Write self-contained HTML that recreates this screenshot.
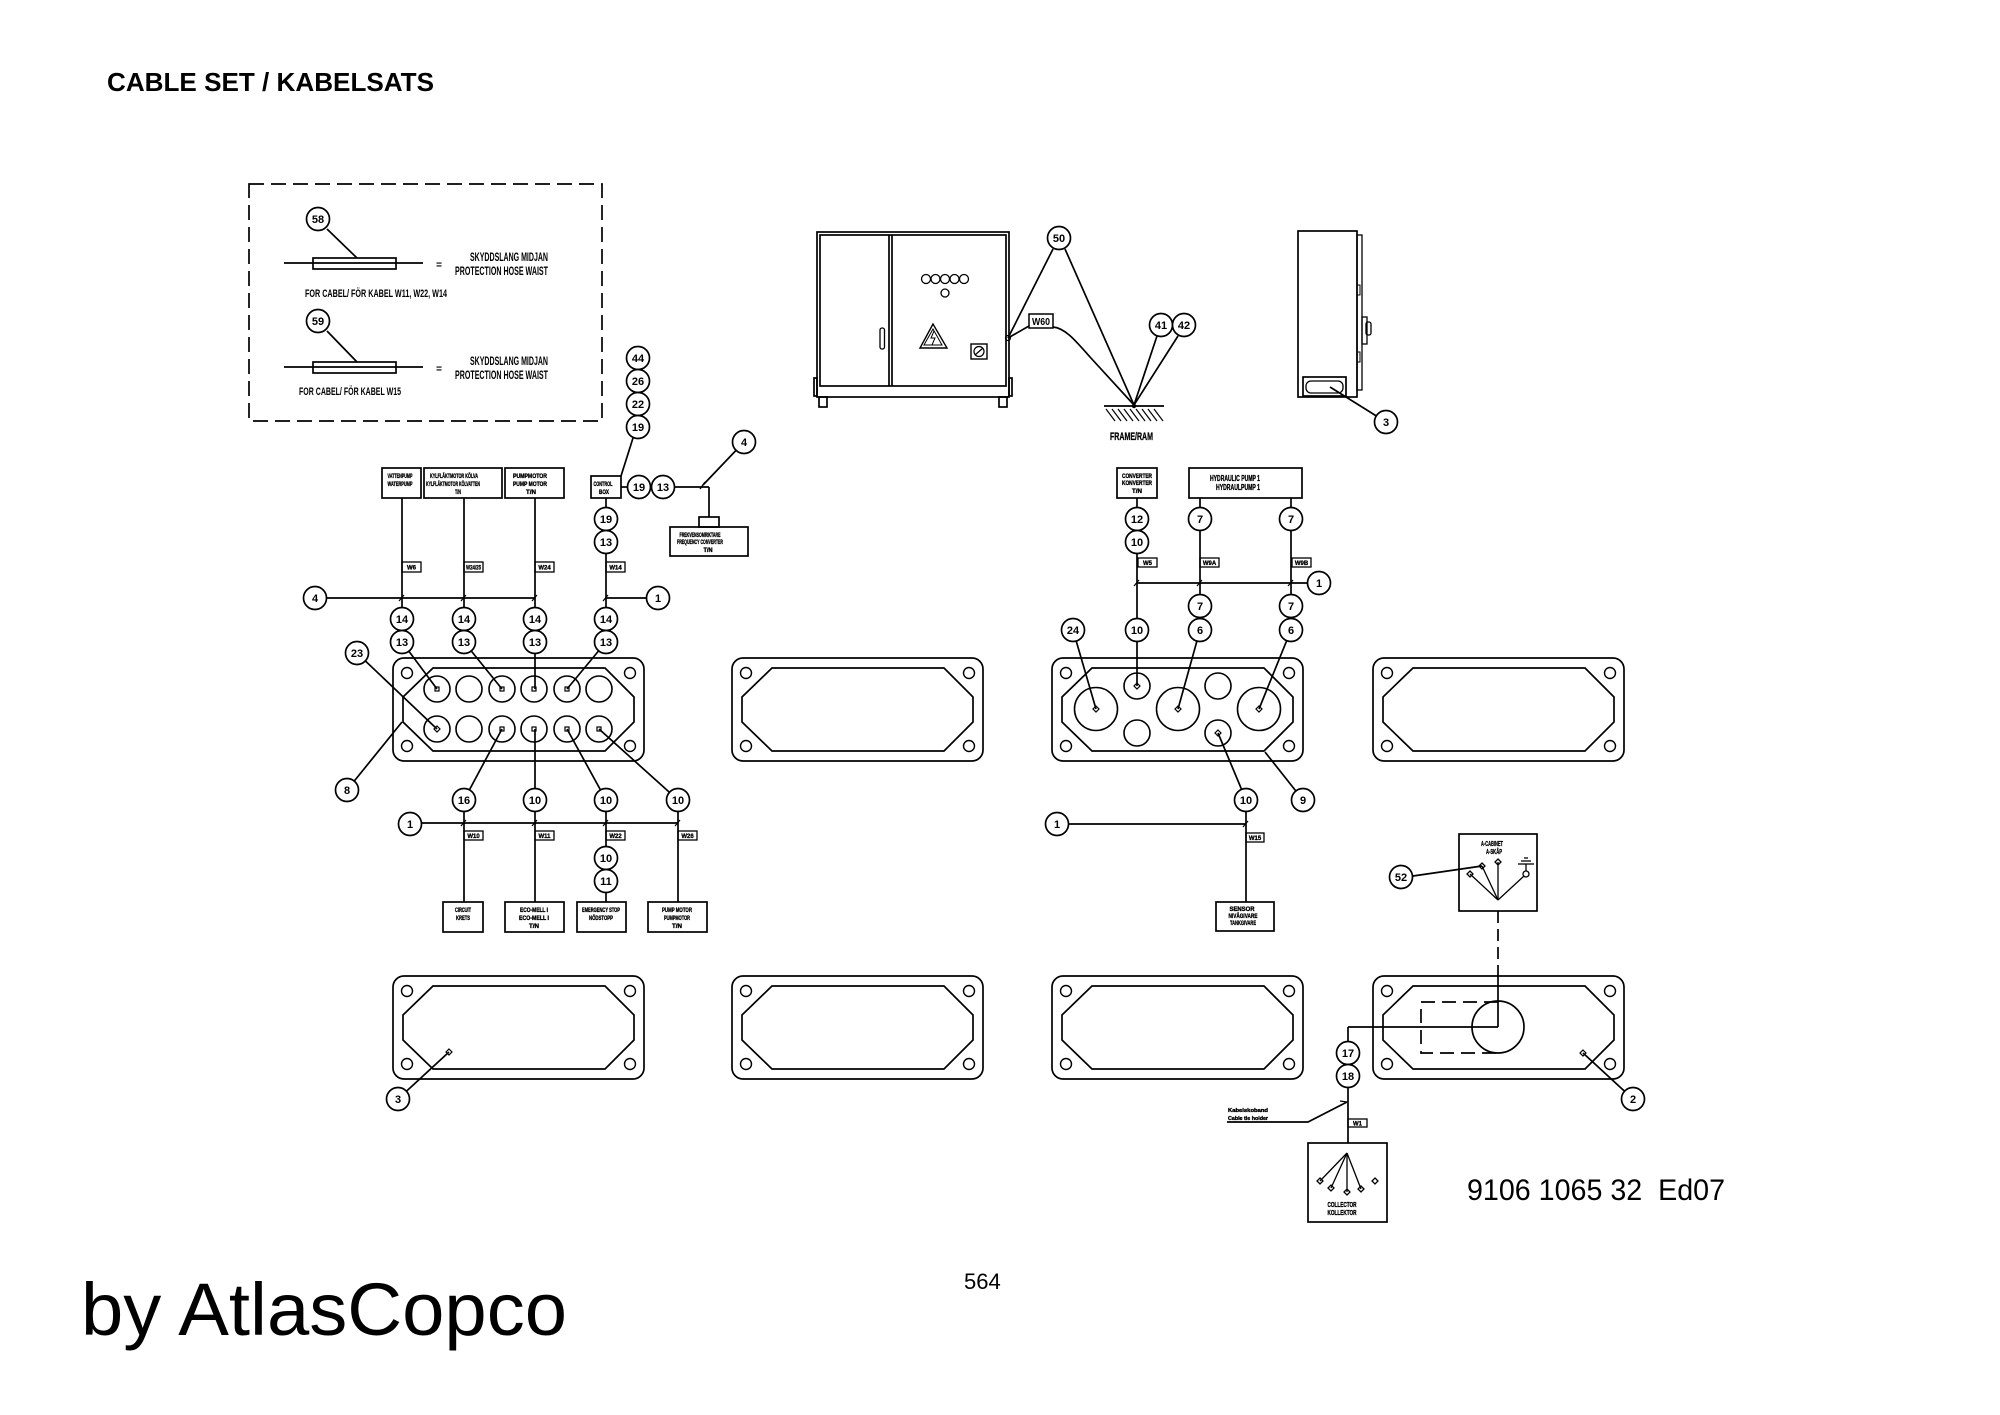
<!DOCTYPE html>
<html><head><meta charset="utf-8"><style>
html,body{margin:0;padding:0;background:#fff;}
svg{display:block;}
text{font-family:"Liberation Sans",Arial,sans-serif;fill:#000;}
.c text,.n{font-weight:bold;font-size:11px;text-anchor:middle;}
.t{font-weight:bold;font-size:6px;text-anchor:middle;stroke:#000;stroke-width:0.35;}
.w{font-weight:bold;font-size:6px;text-anchor:middle;stroke:#000;stroke-width:0.3;}
</style></head><body>
<svg width="2000" height="1415" viewBox="0 0 2000 1415" xmlns="http://www.w3.org/2000/svg">
<rect width="2000" height="1415" fill="#fff"/>

<!-- Title -->
<text x="107" y="91" font-size="26" font-weight="bold" textLength="327" lengthAdjust="spacingAndGlyphs">CABLE SET / KABELSATS</text>

<g fill="none" stroke="#000" stroke-width="1.7">
<!-- Legend box -->
<rect x="249" y="184" width="353" height="237" stroke-dasharray="15,7"/>
<line x1="284" y1="263" x2="423" y2="263"/>
<rect x="313" y="258" width="83" height="11"/>
<line x1="327" y1="229" x2="357" y2="258"/>
<line x1="284" y1="367" x2="423" y2="367"/>
<rect x="313" y="362" width="83" height="11"/>
<line x1="327" y1="331" x2="357" y2="362"/>

<!-- Cabinet front -->
<rect x="817" y="232" width="192" height="165"/>
<rect x="820" y="235" width="186" height="151"/>
<line x1="889" y1="235" x2="889" y2="386"/>
<line x1="892" y1="235" x2="892" y2="386"/>
<rect x="819" y="397" width="8" height="10"/>
<rect x="999" y="397" width="8" height="10"/>
<rect x="814" y="378" width="3" height="18"/>
<rect x="1009" y="378" width="3" height="18"/>
<circle cx="926" cy="279" r="4.5" stroke-width="1.3"/>
<circle cx="935.5" cy="279" r="4.5" stroke-width="1.3"/>
<circle cx="945" cy="279" r="4.5" stroke-width="1.3"/>
<circle cx="954.5" cy="279" r="4.5" stroke-width="1.3"/>
<circle cx="964" cy="279" r="4.5" stroke-width="1.3"/>
<circle cx="945" cy="293" r="4" stroke-width="1.3"/>
<rect x="880" y="328" width="4.5" height="21" rx="2" stroke-width="1.3"/>
<polygon points="933,324 920,348 947,348" stroke-width="1.4"/>
<polygon points="933,329 924,345 942,345" stroke-width="1"/>
<path d="M934,331 L931,338 L935,338 L932,345" stroke-width="1"/>
<rect x="971" y="344" width="16" height="15" stroke-width="1.4"/>
<circle cx="979" cy="351.5" r="5" stroke-width="1.2"/>
<line x1="975" y1="355" x2="983" y2="348" stroke-width="1.2"/>

<!-- Cabinet grounding -->
<line x1="1053" y1="249" x2="1008" y2="338"/>
<line x1="1065" y1="249" x2="1134" y2="405"/>
<line x1="1008" y1="338" x2="1029" y2="326"/>
<path d="M1053,327 C1065,328 1075,340 1090,357 L1134,405"/>
<line x1="1157" y1="336" x2="1134" y2="405"/>
<line x1="1178" y1="336" x2="1134" y2="405"/>
<circle cx="1008" cy="338" r="2.5" stroke-width="1.2"/>
<line x1="1104" y1="406" x2="1164" y2="406"/>
<g stroke-width="1.2">
<line x1="1106" y1="409" x2="1115" y2="421"/>
<line x1="1112" y1="409" x2="1121" y2="421"/>
<line x1="1118" y1="409" x2="1127" y2="421"/>
<line x1="1124" y1="409" x2="1133" y2="421"/>
<line x1="1130" y1="409" x2="1139" y2="421"/>
<line x1="1136" y1="409" x2="1145" y2="421"/>
<line x1="1142" y1="409" x2="1151" y2="421"/>
<line x1="1148" y1="409" x2="1157" y2="421"/>
<line x1="1154" y1="409" x2="1163" y2="421"/>
</g>

<!-- Side view cabinet -->
<rect x="1298" y="231" width="59" height="166"/>
<rect x="1357" y="235" width="5" height="155" stroke-width="1.3"/>
<rect x="1362" y="317" width="5" height="27" stroke-width="1.3"/>
<rect x="1366" y="322" width="5" height="13" rx="2" stroke-width="1.3"/>
<rect x="1357" y="285" width="3" height="10" stroke-width="1"/>
<rect x="1357" y="352" width="3" height="10" stroke-width="1"/>
<rect x="1303" y="377" width="43" height="19"/>
<rect x="1306" y="381" width="37" height="12" rx="5" stroke-width="1.3"/>
<line x1="1330" y1="387" x2="1386" y2="422"/>

<!-- ===== Left top wiring ===== -->
<rect x="382" y="468" width="39" height="30"/>
<rect x="424" y="468" width="78" height="30"/>
<rect x="505" y="468" width="59" height="30"/>
<rect x="591" y="476" width="30" height="22"/>
<line x1="633" y1="438" x2="621" y2="476"/>
<line x1="621" y1="487" x2="630" y2="487"/>
<line x1="670" y1="487" x2="709" y2="487"/>
<line x1="709" y1="487" x2="709" y2="517"/>
<rect x="699" y="517" width="20" height="10"/>
<rect x="670" y="527" width="78" height="29"/>
<line x1="744" y1="442" x2="703" y2="485"/>
<line x1="700" y1="489" x2="705" y2="482" stroke-width="1.3"/>

<line x1="402" y1="498" x2="402" y2="642"/>
<line x1="464" y1="498" x2="464" y2="642"/>
<line x1="535" y1="498" x2="535" y2="689"/>
<line x1="606" y1="498" x2="606" y2="642"/>
<line x1="327" y1="598" x2="535" y2="598"/>
<line x1="606" y1="598" x2="646" y2="598"/>
<g stroke-width="1.2">
<line x1="399" y1="601" x2="404" y2="595"/>
<line x1="461" y1="601" x2="466" y2="595"/>
<line x1="532" y1="601" x2="537" y2="595"/>
<line x1="603" y1="601" x2="608" y2="595"/>
</g>
<rect x="402" y="562" width="19" height="10" stroke-width="1.3"/>
<rect x="464" y="562" width="19" height="10" stroke-width="1.3"/>
<rect x="535" y="562" width="19" height="10" stroke-width="1.3"/>
<rect x="606" y="562" width="19" height="10" stroke-width="1.3"/>

<line x1="402" y1="642" x2="437" y2="689"/>
<line x1="464" y1="642" x2="502" y2="689"/>
<line x1="606" y1="642" x2="567" y2="689"/>
<line x1="357" y1="653" x2="437" y2="729"/>
<line x1="347" y1="790" x2="402" y2="722"/>
<line x1="464" y1="800" x2="502" y2="729"/>
<line x1="535" y1="800" x2="535" y2="729"/>
<line x1="606" y1="800" x2="567" y2="729"/>
<line x1="678" y1="800" x2="599" y2="729"/>

<!-- Left plate with glands -->
<g transform="translate(393,658)">
<rect x="0" y="0" width="251" height="103" rx="11"/>
<polygon points="40,10 212,10 241,39 241,64 212,93 40,93 10,64 10,39"/>
<circle cx="14" cy="15" r="5.5" stroke-width="1.4"/><circle cx="237" cy="15" r="5.5" stroke-width="1.4"/>
<circle cx="14" cy="88" r="5.5" stroke-width="1.4"/><circle cx="237" cy="88" r="5.5" stroke-width="1.4"/>
</g>
<g stroke-width="1.6">
<circle cx="437" cy="689" r="13"/><circle cx="469" cy="689" r="13"/><circle cx="502" cy="689" r="13"/>
<circle cx="534" cy="689" r="13"/><circle cx="567" cy="689" r="13"/><circle cx="599" cy="689" r="13"/>
<circle cx="437" cy="729" r="13"/><circle cx="469" cy="729" r="13"/><circle cx="502" cy="729" r="13"/>
<circle cx="534" cy="729" r="13"/><circle cx="567" cy="729" r="13"/><circle cx="599" cy="729" r="13"/>
</g>
<g stroke-width="1.2">
<rect x="435" y="687" width="4" height="4"/><rect x="500" y="687" width="4" height="4"/>
<rect x="532" y="687" width="4" height="4"/><rect x="565" y="687" width="4" height="4"/>
<polygon points="437,726 440,729 437,732 434,729"/>
<rect x="500" y="727" width="4" height="4"/><rect x="532" y="727" width="4" height="4"/>
<rect x="565" y="727" width="4" height="4"/><rect x="597" y="727" width="4" height="4"/>
</g>

<!-- Left lower wiring -->
<line x1="464" y1="800" x2="464" y2="902"/>
<line x1="535" y1="800" x2="535" y2="902"/>
<line x1="606" y1="800" x2="606" y2="902"/>
<line x1="678" y1="800" x2="678" y2="902"/>
<line x1="422" y1="823" x2="678" y2="823"/>
<g stroke-width="1.2">
<line x1="461" y1="826" x2="466" y2="820"/>
<line x1="532" y1="826" x2="537" y2="820"/>
<line x1="603" y1="826" x2="608" y2="820"/>
<line x1="675" y1="826" x2="680" y2="820"/>
</g>
<rect x="464" y="831" width="19" height="9" stroke-width="1.3"/>
<rect x="535" y="831" width="19" height="9" stroke-width="1.3"/>
<rect x="606" y="831" width="19" height="9" stroke-width="1.3"/>
<rect x="678" y="831" width="19" height="9" stroke-width="1.3"/>
<rect x="443" y="902" width="40" height="30"/>
<rect x="505" y="902" width="59" height="30"/>
<rect x="577" y="902" width="49" height="30"/>
<rect x="648" y="902" width="59" height="30"/>

<!-- Plate 2 blank top -->
<g transform="translate(732,658)">
<rect x="0" y="0" width="251" height="103" rx="11"/>
<polygon points="40,10 212,10 241,39 241,64 212,93 40,93 10,64 10,39"/>
<circle cx="14" cy="15" r="5.5" stroke-width="1.4"/><circle cx="237" cy="15" r="5.5" stroke-width="1.4"/>
<circle cx="14" cy="88" r="5.5" stroke-width="1.4"/><circle cx="237" cy="88" r="5.5" stroke-width="1.4"/>
</g>

<!-- ===== Right top wiring ===== -->
<rect x="1117" y="468" width="40" height="30"/>
<rect x="1189" y="468" width="113" height="30"/>
<line x1="1137" y1="498" x2="1137" y2="686"/>
<line x1="1200" y1="498" x2="1200" y2="630"/>
<line x1="1291" y1="498" x2="1291" y2="630"/>
<line x1="1137" y1="583" x2="1307" y2="583"/>
<g stroke-width="1.2">
<line x1="1134" y1="586" x2="1139" y2="580"/>
<line x1="1197" y1="586" x2="1202" y2="580"/>
<line x1="1288" y1="586" x2="1293" y2="580"/>
</g>
<rect x="1138" y="558" width="19" height="9" stroke-width="1.3"/>
<rect x="1200" y="558" width="19" height="9" stroke-width="1.3"/>
<rect x="1292" y="558" width="19" height="9" stroke-width="1.3"/>
<line x1="1073" y1="630" x2="1096" y2="709"/>
<line x1="1200" y1="630" x2="1178" y2="709"/>
<line x1="1291" y1="630" x2="1259" y2="709"/>
<line x1="1246" y1="800" x2="1218" y2="733"/>
<line x1="1303" y1="800" x2="1265" y2="752"/>

<g transform="translate(1052,658)">
<rect x="0" y="0" width="251" height="103" rx="11"/>
<polygon points="40,10 212,10 241,39 241,64 212,93 40,93 10,64 10,39"/>
<circle cx="14" cy="15" r="5.5" stroke-width="1.4"/><circle cx="237" cy="15" r="5.5" stroke-width="1.4"/>
<circle cx="14" cy="88" r="5.5" stroke-width="1.4"/><circle cx="237" cy="88" r="5.5" stroke-width="1.4"/>
</g>
<g stroke-width="1.6">
<circle cx="1096" cy="709" r="21.5"/>
<circle cx="1178" cy="709" r="21.5"/>
<circle cx="1259" cy="709" r="21.5"/>
<circle cx="1137" cy="686" r="13"/><circle cx="1137" cy="733" r="13"/>
<circle cx="1218" cy="686" r="13"/><circle cx="1218" cy="733" r="13"/>
</g>
<g stroke-width="1.2">
<polygon points="1096,706 1099,709 1096,712 1093,709"/>
<polygon points="1178,706 1181,709 1178,712 1175,709"/>
<polygon points="1259,706 1262,709 1259,712 1256,709"/>
<polygon points="1137,683 1140,686 1137,689 1134,686"/>
<polygon points="1218,730 1221,733 1218,736 1215,733"/>
</g>

<line x1="1069" y1="824" x2="1246" y2="824"/>
<line x1="1243" y1="827" x2="1248" y2="821" stroke-width="1.2"/>
<line x1="1246" y1="800" x2="1246" y2="902"/>
<rect x="1246" y="833" width="18" height="9" stroke-width="1.3"/>
<rect x="1216" y="902" width="58" height="29"/>

<!-- Plate 4 blank top -->
<g transform="translate(1373,658)">
<rect x="0" y="0" width="251" height="103" rx="11"/>
<polygon points="40,10 212,10 241,39 241,64 212,93 40,93 10,64 10,39"/>
<circle cx="14" cy="15" r="5.5" stroke-width="1.4"/><circle cx="237" cy="15" r="5.5" stroke-width="1.4"/>
<circle cx="14" cy="88" r="5.5" stroke-width="1.4"/><circle cx="237" cy="88" r="5.5" stroke-width="1.4"/>
</g>

<!-- ===== Bottom row plates ===== -->
<g transform="translate(393,976)">
<rect x="0" y="0" width="251" height="103" rx="11"/>
<polygon points="40,10 212,10 241,39 241,64 212,93 40,93 10,64 10,39"/>
<circle cx="14" cy="15" r="5.5" stroke-width="1.4"/><circle cx="237" cy="15" r="5.5" stroke-width="1.4"/>
<circle cx="14" cy="88" r="5.5" stroke-width="1.4"/><circle cx="237" cy="88" r="5.5" stroke-width="1.4"/>
</g>
<polygon points="449,1049 452,1052 449,1055 446,1052" stroke-width="1.2"/>
<line x1="449" y1="1052" x2="398" y2="1099"/>
<g transform="translate(732,976)">
<rect x="0" y="0" width="251" height="103" rx="11"/>
<polygon points="40,10 212,10 241,39 241,64 212,93 40,93 10,64 10,39"/>
<circle cx="14" cy="15" r="5.5" stroke-width="1.4"/><circle cx="237" cy="15" r="5.5" stroke-width="1.4"/>
<circle cx="14" cy="88" r="5.5" stroke-width="1.4"/><circle cx="237" cy="88" r="5.5" stroke-width="1.4"/>
</g>
<g transform="translate(1052,976)">
<rect x="0" y="0" width="251" height="103" rx="11"/>
<polygon points="40,10 212,10 241,39 241,64 212,93 40,93 10,64 10,39"/>
<circle cx="14" cy="15" r="5.5" stroke-width="1.4"/><circle cx="237" cy="15" r="5.5" stroke-width="1.4"/>
<circle cx="14" cy="88" r="5.5" stroke-width="1.4"/><circle cx="237" cy="88" r="5.5" stroke-width="1.4"/>
</g>
<g transform="translate(1373,976)">
<rect x="0" y="0" width="251" height="103" rx="11"/>
<polygon points="40,10 212,10 241,39 241,64 212,93 40,93 10,64 10,39"/>
<circle cx="14" cy="15" r="5.5" stroke-width="1.4"/><circle cx="237" cy="15" r="5.5" stroke-width="1.4"/>
<circle cx="14" cy="88" r="5.5" stroke-width="1.4"/><circle cx="237" cy="88" r="5.5" stroke-width="1.4"/>
</g>

<!-- Bottom right details -->
<rect x="1459" y="834" width="78" height="77"/>
<line x1="1498" y1="911" x2="1498" y2="977" stroke-dasharray="12,6"/>
<line x1="1498" y1="977" x2="1498" y2="1027"/>
<path d="M1498,1002 H1421 V1053 H1498" stroke-dasharray="14,7"/>
<circle cx="1498" cy="1027" r="26"/>
<line x1="1498" y1="1027" x2="1348" y2="1027"/>
<line x1="1348" y1="1027" x2="1348" y2="1053"/>
<polygon points="1583,1050 1586,1053 1583,1056 1580,1053" stroke-width="1.2"/>
<line x1="1583" y1="1053" x2="1633" y2="1099"/>
<g stroke-width="1.3">
<line x1="1498" y1="900" x2="1470" y2="874"/>
<line x1="1498" y1="900" x2="1482" y2="866"/>
<line x1="1498" y1="900" x2="1498" y2="862"/>
<line x1="1498" y1="900" x2="1524" y2="876"/>
<polygon points="1470,871 1473,874 1470,877 1467,874"/>
<polygon points="1482,863 1485,866 1482,869 1479,866"/>
<polygon points="1498,859 1501,862 1498,865 1495,862"/>
<circle cx="1526" cy="874" r="3"/>
<line x1="1526" y1="871" x2="1526" y2="864"/>
<line x1="1518" y1="864" x2="1534" y2="864"/>
<line x1="1521" y1="861" x2="1531" y2="861"/>
<line x1="1524" y1="858" x2="1528" y2="858"/>
</g>
<line x1="1413" y1="876" x2="1482" y2="866"/>

<line x1="1348" y1="1076" x2="1348" y2="1143"/>
<rect x="1348" y="1119" width="19" height="8" stroke-width="1.3"/>
<polyline points="1227,1122 1308,1122 1347,1102"/>
<line x1="1340" y1="1101" x2="1347" y2="1102" stroke-width="1.3"/>
<rect x="1308" y="1143" width="79" height="79"/>
<g stroke-width="1.3">
<line x1="1347" y1="1153" x2="1320" y2="1181"/>
<line x1="1347" y1="1153" x2="1331" y2="1188"/>
<line x1="1347" y1="1153" x2="1347" y2="1192"/>
<line x1="1347" y1="1153" x2="1361" y2="1189"/>
<polygon points="1320,1178 1323,1181 1320,1184 1317,1181"/>
<polygon points="1331,1185 1334,1188 1331,1191 1328,1188"/>
<polygon points="1347,1189 1350,1192 1347,1195 1344,1192"/>
<polygon points="1361,1186 1364,1189 1361,1192 1358,1189"/>
<polygon points="1375,1178 1378,1181 1375,1184 1372,1181"/>
</g>
</g>

<!-- Ground dot -->
<circle cx="1134" cy="406" r="2.2" fill="#000"/>

<!-- W60 label -->
<rect x="1029" y="314" width="24" height="14" fill="#fff" stroke="#000" stroke-width="1.5"/>
<text x="1041" y="325" font-size="10" font-weight="bold" text-anchor="middle" textLength="18" lengthAdjust="spacingAndGlyphs">W60</text>

<!-- Numbered circles -->
<g class="c" stroke="#000" stroke-width="1.7">
<g fill="#fff">
<circle cx="318" cy="219" r="11.5"/><circle cx="318" cy="321" r="11.5"/>
<circle cx="638" cy="358" r="11.5"/><circle cx="638" cy="381" r="11.5"/><circle cx="638" cy="404" r="11.5"/><circle cx="638" cy="427" r="11.5"/>
<circle cx="639" cy="487" r="11.5"/><circle cx="663" cy="487" r="11.5"/><circle cx="744" cy="442" r="11.5"/>
<circle cx="606" cy="519" r="11.5"/><circle cx="606" cy="542" r="11.5"/>
<circle cx="315" cy="598" r="11.5"/><circle cx="658" cy="598" r="11.5"/>
<circle cx="402" cy="619" r="11.5"/><circle cx="464" cy="619" r="11.5"/><circle cx="535" cy="619" r="11.5"/><circle cx="606" cy="619" r="11.5"/>
<circle cx="402" cy="642" r="11.5"/><circle cx="464" cy="642" r="11.5"/><circle cx="535" cy="642" r="11.5"/><circle cx="606" cy="642" r="11.5"/>
<circle cx="357" cy="653" r="11.5"/><circle cx="347" cy="790" r="11.5"/>
<circle cx="464" cy="800" r="11.5"/><circle cx="535" cy="800" r="11.5"/><circle cx="606" cy="800" r="11.5"/><circle cx="678" cy="800" r="11.5"/>
<circle cx="410" cy="824" r="11.5"/><circle cx="606" cy="858" r="11.5"/><circle cx="606" cy="881" r="11.5"/>
<circle cx="1059" cy="238" r="11.5"/><circle cx="1161" cy="325" r="11.5"/><circle cx="1184" cy="325" r="11.5"/><circle cx="1386" cy="422" r="11.5"/>
<circle cx="1137" cy="519" r="11.5"/><circle cx="1137" cy="542" r="11.5"/><circle cx="1200" cy="519" r="11.5"/><circle cx="1291" cy="519" r="11.5"/>
<circle cx="1319" cy="583" r="11.5"/><circle cx="1200" cy="606" r="11.5"/><circle cx="1291" cy="606" r="11.5"/>
<circle cx="1073" cy="630" r="11.5"/><circle cx="1137" cy="630" r="11.5"/><circle cx="1200" cy="630" r="11.5"/><circle cx="1291" cy="630" r="11.5"/>
<circle cx="1246" cy="800" r="11.5"/><circle cx="1303" cy="800" r="11.5"/><circle cx="1057" cy="824" r="11.5"/>
<circle cx="398" cy="1099" r="11.5"/><circle cx="1401" cy="877" r="11.5"/><circle cx="1348" cy="1053" r="11.5"/><circle cx="1348" cy="1076" r="11.5"/><circle cx="1633" cy="1099" r="11.5"/>
</g>
<g stroke="none" font-size="11">
<text x="318" y="223" font-size="9">58</text><text x="318" y="325" font-size="9">59</text>
<text x="638" y="362" font-size="10">44</text><text x="638" y="385" font-size="10">26</text><text x="638" y="408" font-size="10">22</text><text x="638" y="431" font-size="10">19</text>
<text x="639" y="491">19</text><text x="663" y="491">13</text><text x="744" y="446" font-size="10">4</text>
<text x="606" y="523">19</text><text x="606" y="546">13</text>
<text x="315" y="602" font-size="10">4</text><text x="658" y="602" font-size="10">1</text>
<text x="402" y="623">14</text><text x="464" y="623">14</text><text x="535" y="623">14</text><text x="606" y="623">14</text>
<text x="402" y="646">13</text><text x="464" y="646">13</text><text x="535" y="646">13</text><text x="606" y="646">13</text>
<text x="357" y="657" font-size="10">23</text><text x="347" y="794" font-size="10">8</text>
<text x="464" y="804">16</text><text x="535" y="804">10</text><text x="606" y="804">10</text><text x="678" y="804">10</text>
<text x="410" y="828" font-size="10">1</text><text x="606" y="862">10</text><text x="606" y="885">11</text>
<text x="1059" y="242" font-size="10">50</text><text x="1161" y="329" font-size="10">41</text><text x="1184" y="329" font-size="10">42</text><text x="1386" y="426" font-size="10">3</text>
<text x="1137" y="523">12</text><text x="1137" y="546">10</text><text x="1200" y="523">7</text><text x="1291" y="523">7</text>
<text x="1319" y="587" font-size="10">1</text><text x="1200" y="610">7</text><text x="1291" y="610">7</text>
<text x="1073" y="634" font-size="10">24</text><text x="1137" y="634">10</text><text x="1200" y="634">6</text><text x="1291" y="634">6</text>
<text x="1246" y="804">10</text><text x="1303" y="804" font-size="10">9</text><text x="1057" y="828" font-size="10">1</text>
<text x="398" y="1103" font-size="10">3</text><text x="1401" y="881" font-size="10">52</text><text x="1348" y="1057">17</text><text x="1348" y="1080">18</text><text x="1633" y="1103" font-size="10">2</text>
</g>
</g>

<!-- Legend text -->
<g font-weight="bold">
<text x="439" y="268" font-size="10" text-anchor="middle">=</text>
<text x="439" y="372" font-size="10" text-anchor="middle">=</text>
<text x="470" y="261" font-size="12" textLength="78" lengthAdjust="spacingAndGlyphs">SKYDDSLANG MIDJAN</text>
<text x="455" y="275" font-size="12" textLength="93" lengthAdjust="spacingAndGlyphs">PROTECTION HOSE WAIST</text>
<text x="305" y="297" font-size="11" textLength="142" lengthAdjust="spacingAndGlyphs">FOR CABEL/ FÖR KABEL W11, W22, W14</text>
<text x="470" y="365" font-size="12" textLength="78" lengthAdjust="spacingAndGlyphs">SKYDDSLANG MIDJAN</text>
<text x="455" y="379" font-size="12" textLength="93" lengthAdjust="spacingAndGlyphs">PROTECTION HOSE WAIST</text>
<text x="299" y="395" font-size="11" textLength="102" lengthAdjust="spacingAndGlyphs">FOR CABEL/ FÖR KABEL W15</text>
<text x="1110" y="440" font-size="11" textLength="43" lengthAdjust="spacingAndGlyphs" stroke="#000" stroke-width="0.3">FRAME/RAM</text>
</g>

<!-- Box texts -->
<g class="t">
<text x="400" y="478" textLength="25" lengthAdjust="spacingAndGlyphs">VATTENPUMP</text>
<text x="400" y="486" textLength="25" lengthAdjust="spacingAndGlyphs">WATERPUMP</text>
<text x="454" y="478" textLength="48" lengthAdjust="spacingAndGlyphs">KYLFLÄKTMOTOR KÖLVA</text>
<text x="453" y="486" textLength="54" lengthAdjust="spacingAndGlyphs">KYLFLÄKTMOTOR KÖLVATTEN</text>
<text x="458" y="494" textLength="6" lengthAdjust="spacingAndGlyphs">T/N</text>
<text x="530" y="478" textLength="34" lengthAdjust="spacingAndGlyphs">PUMPMOTOR</text>
<text x="530" y="486" textLength="34" lengthAdjust="spacingAndGlyphs">PUMP MOTOR</text>
<text x="531" y="494" textLength="10" lengthAdjust="spacingAndGlyphs">T/N</text>
<text x="603" y="486" textLength="19" lengthAdjust="spacingAndGlyphs">CONTROL</text>
<text x="604" y="494" textLength="10" lengthAdjust="spacingAndGlyphs">BOX</text>
<text x="700" y="537" textLength="41" lengthAdjust="spacingAndGlyphs">FREKVENSOMRIKTARE</text>
<text x="700" y="544" textLength="46" lengthAdjust="spacingAndGlyphs">FREQUENCY CONVERTER</text>
<text x="708" y="552" textLength="9" lengthAdjust="spacingAndGlyphs">T/N</text>
<text x="463" y="912" textLength="16" lengthAdjust="spacingAndGlyphs">CIRCUIT</text>
<text x="463" y="920" textLength="14" lengthAdjust="spacingAndGlyphs">KRETS</text>
<text x="534" y="912" textLength="28" lengthAdjust="spacingAndGlyphs">ECO-MELL I</text>
<text x="534" y="920" textLength="30" lengthAdjust="spacingAndGlyphs">ECO-MELL I</text>
<text x="534" y="928" textLength="10" lengthAdjust="spacingAndGlyphs">T/N</text>
<text x="601" y="912" textLength="38" lengthAdjust="spacingAndGlyphs">EMERGENCY STOP</text>
<text x="601" y="920" textLength="24" lengthAdjust="spacingAndGlyphs">NÖDSTOPP</text>
<text x="677" y="912" textLength="30" lengthAdjust="spacingAndGlyphs">PUMP MOTOR</text>
<text x="677" y="920" textLength="26" lengthAdjust="spacingAndGlyphs">PUMPMOTOR</text>
<text x="677" y="928" textLength="10" lengthAdjust="spacingAndGlyphs">T/N</text>
<text x="1137" y="478" textLength="30" lengthAdjust="spacingAndGlyphs">CONVERTER</text>
<text x="1137" y="485" textLength="30" lengthAdjust="spacingAndGlyphs">KONVERTER</text>
<text x="1137" y="493" textLength="10" lengthAdjust="spacingAndGlyphs">T/N</text>
<text x="1235" y="481" font-size="8" textLength="50" lengthAdjust="spacingAndGlyphs">HYDRAULIC PUMP 1</text>
<text x="1238" y="490" font-size="8" textLength="44" lengthAdjust="spacingAndGlyphs">HYDRAULPUMP 1</text>
<text x="1242" y="911" textLength="25" lengthAdjust="spacingAndGlyphs">SENSOR</text>
<text x="1243" y="918" textLength="29" lengthAdjust="spacingAndGlyphs">NIVÅGIVARE</text>
<text x="1243" y="925" textLength="26" lengthAdjust="spacingAndGlyphs">TANKGIVARE</text>
<text x="1492" y="846" font-size="7" textLength="22" lengthAdjust="spacingAndGlyphs">A-CABINET</text>
<text x="1494" y="854" font-size="7" textLength="16" lengthAdjust="spacingAndGlyphs">A-SKÅP</text>
<text x="1342" y="1207" font-size="7" textLength="29" lengthAdjust="spacingAndGlyphs">COLLECTOR</text>
<text x="1342" y="1215" font-size="7" textLength="29" lengthAdjust="spacingAndGlyphs">KOLLEKTOR</text>
<text x="1248" y="1112" font-size="5" textLength="40" lengthAdjust="spacingAndGlyphs">Kabelskoband</text>
<text x="1248" y="1120" font-size="5" textLength="40" lengthAdjust="spacingAndGlyphs">Cable tie holder</text>
</g>

<!-- W labels -->
<g class="w">
<text x="411.5" y="569.5">W6</text><text x="473.5" y="569.5" textLength="15" lengthAdjust="spacingAndGlyphs">W24/25</text>
<text x="544.5" y="569.5">W24</text><text x="615.5" y="569.5">W14</text>
<text x="473.5" y="838">W10</text><text x="544.5" y="838">W11</text><text x="615.5" y="838">W22</text><text x="687.5" y="838">W26</text>
<text x="1147.5" y="565">W5</text><text x="1209.5" y="565">W9A</text><text x="1301.5" y="565">W9B</text>
<text x="1255" y="840">W15</text><text x="1357.5" y="1125.5">W1</text>
</g>

<!-- Bottom texts -->
<text x="1467" y="1200" font-size="30" xml:space="preserve" textLength="258" lengthAdjust="spacingAndGlyphs">9106 1065 32  Ed07</text>
<text x="964" y="1289" font-size="22">564</text>
<text x="81" y="1335" font-size="74" textLength="486" lengthAdjust="spacingAndGlyphs">by AtlasCopco</text>
</svg>
</body></html>
